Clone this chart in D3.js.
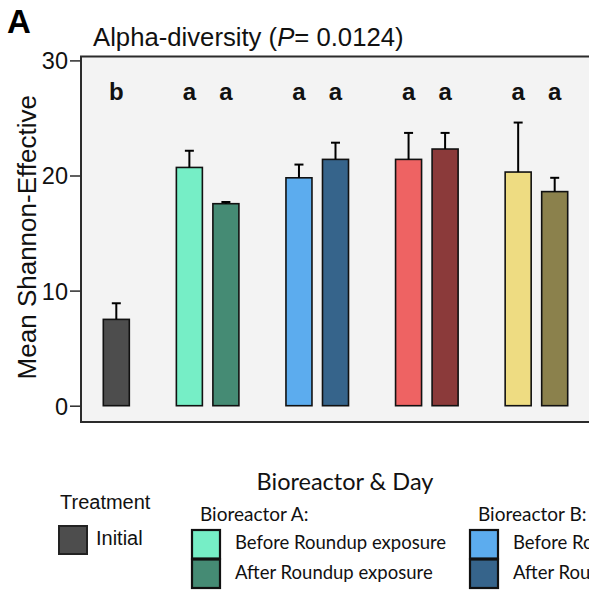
<!DOCTYPE html>
<html>
<head>
<meta charset="utf-8">
<script src="https://cdn.jsdelivr.net/npm/d3@7"></script>
<style>
  html, body { margin: 0; padding: 0; background: #ffffff; }
  svg { display: block; }
</style>
</head>
<body>
<svg id="chart" width="589" height="592"></svg>
<script>
// Mean Shannon-effective diversity per bioreactor phase, with standard errors
const reactors = ["A", "B", "C", "D"];
const barIds = ["Initial", "A-before", "A-after", "B-before", "B-after",
                "C-before", "C-after", "D-before", "D-after"];
const means = [7.5, 20.7, 17.55, 19.8, 21.4, 21.4, 22.3, 20.3, 18.6];
const errors = [1.4, 1.45, 0.15, 1.15, 1.45, 2.3, 1.4, 4.3, 1.2];
const groupLetters = ["b", "a", "a", "a", "a", "a", "a", "a", "a"];
const barColors = ["#4d4d4d", "#76eec6", "#458b74", "#5cacee", "#36648b",
                   "#ee6363", "#8b3a3a", "#eedc82", "#8b814c"];
const yTicks = [0, 10, 20, 30];

const bars = barIds.map((id, i) => ({
  id, mean: means[i], err: errors[i], letter: groupLetters[i], color: barColors[i]
}));

// slot order: Initial, then a spacer + before/after pair for each reactor
const slots = ["Initial"];
reactors.forEach(r => slots.push("gap-" + r, r + "-before", r + "-after"));

const svg = d3.select("#chart");
const panel = { left: 81, top: 56.5, right: 640, bottom: 422 };

const x = d3.scaleBand().domain(slots).range([103.3, 567.7])
  .paddingInner(0.288).paddingOuter(0);
const y = d3.scaleLinear().domain([0, 30]).range([405.7, 60.4]);

// panel
svg.append("rect")
  .attr("x", panel.left).attr("y", panel.top)
  .attr("width", panel.right - panel.left).attr("height", panel.bottom - panel.top)
  .attr("fill", "#f3f3f3").attr("stroke", "#2b2b2b").attr("stroke-width", 2);

// axis
const yAxis = svg.append("g")
  .attr("transform", `translate(${panel.left},0)`)
  .call(d3.axisLeft(y).tickValues(yTicks).tickSize(11).tickPadding(2).tickSizeOuter(0));
yAxis.select(".domain").remove();
yAxis.selectAll(".tick line").attr("stroke", "#2b2b2b").attr("stroke-width", 1.5);
yAxis.selectAll(".tick text")
  .attr("font-family", "Liberation Sans, Arial, sans-serif")
  .attr("font-size", 23.5).attr("fill", "#111").attr("dy", "0.36em");

// bars
svg.append("g").selectAll("rect").data(bars).join("rect")
  .attr("x", d => x(d.id)).attr("width", x.bandwidth())
  .attr("y", d => y(d.mean)).attr("height", d => y(0) - y(d.mean))
  .attr("fill", d => d.color)
  .attr("stroke", "#111").attr("stroke-width", 1.6);

// upper error bars
const eb = svg.append("g").attr("stroke", "#000").attr("stroke-width", 2);
bars.forEach(d => {
  const cx = x(d.id) + x.bandwidth() / 2;
  eb.append("line").attr("x1", cx).attr("x2", cx)
    .attr("y1", y(d.mean)).attr("y2", y(d.mean + d.err));
  eb.append("line").attr("x1", cx - 4.5).attr("x2", cx + 4.5)
    .attr("y1", y(d.mean + d.err)).attr("y2", y(d.mean + d.err));
});

// significance letters
svg.append("g").selectAll("text").data(bars).join("text")
  .attr("x", d => x(d.id) + x.bandwidth() / 2).attr("y", 100)
  .attr("text-anchor", "middle")
  .attr("font-family", "Liberation Sans, Arial, sans-serif")
  .attr("font-weight", "bold").attr("font-size", 24).attr("fill", "#111")
  .text(d => d.letter);

// titles
svg.append("text").attr("x", 7).attr("y", 33)
  .attr("font-family", "Liberation Sans, Arial, sans-serif")
  .attr("font-weight", "bold").attr("font-size", 33).text("A");

const title = svg.append("text").attr("x", 93).attr("y", 46)
  .attr("font-family", "Liberation Sans, Arial, sans-serif")
  .attr("font-size", 25.7).attr("fill", "#111");
title.append("tspan").text("Alpha-diversity (");
title.append("tspan").attr("font-style", "italic").text("P");
title.append("tspan").text("= 0.0124)");

svg.append("text")
  .attr("transform", `translate(36,${(panel.top + panel.bottom) / 2 - 2}) rotate(-90)`)
  .attr("text-anchor", "middle")
  .attr("font-family", "Liberation Sans, Arial, sans-serif")
  .attr("font-size", 26).attr("fill", "#111")
  .text("Mean Shannon-Effective");

// legend
const legendFont = "Lato, 'Open Sans', sans-serif";
svg.append("text").attr("x", 345).attr("y", 490).attr("text-anchor", "middle")
  .attr("font-family", legendFont).attr("font-size", 23.5).attr("fill", "#111")
  .text("Bioreactor & Day");

svg.append("text").attr("x", 60).attr("y", 509)
  .attr("font-family", "Liberation Sans, Arial, sans-serif")
  .attr("font-size", 20).attr("fill", "#111").text("Treatment");
svg.append("rect").attr("x", 59).attr("y", 526).attr("width", 28).attr("height", 28)
  .attr("fill", barColors[0]).attr("stroke", "#222").attr("stroke-width", 2);
svg.append("text").attr("x", 96).attr("y", 545)
  .attr("font-family", "Liberation Sans, Arial, sans-serif")
  .attr("font-size", 20).attr("fill", "#111").text("Initial");

const legendGroups = [
  { name: "Bioreactor A:", x: 192, colors: [barColors[1], barColors[2]] },
  { name: "Bioreactor B:", x: 470, colors: [barColors[3], barColors[4]] }
];
const phaseLabels = ["Before Roundup exposure", "After Roundup exposure"];
legendGroups.forEach(g => {
  svg.append("text").attr("x", g.x + 8).attr("y", 521)
    .attr("font-family", legendFont).attr("font-size", 19).attr("fill", "#111")
    .text(g.name);
  g.colors.forEach((c, i) => {
    svg.append("rect").attr("x", g.x).attr("y", 530 + i * 29.5)
      .attr("width", 28).attr("height", 28.5)
      .attr("fill", c).attr("stroke", "#111").attr("stroke-width", 2.2);
    svg.append("text").attr("x", g.x + 43).attr("y", 549 + i * 30)
      .attr("font-family", legendFont).attr("font-size", 18.5).attr("fill", "#111")
      .text(phaseLabels[i]);
  });
});
</script>
</body>
</html>
